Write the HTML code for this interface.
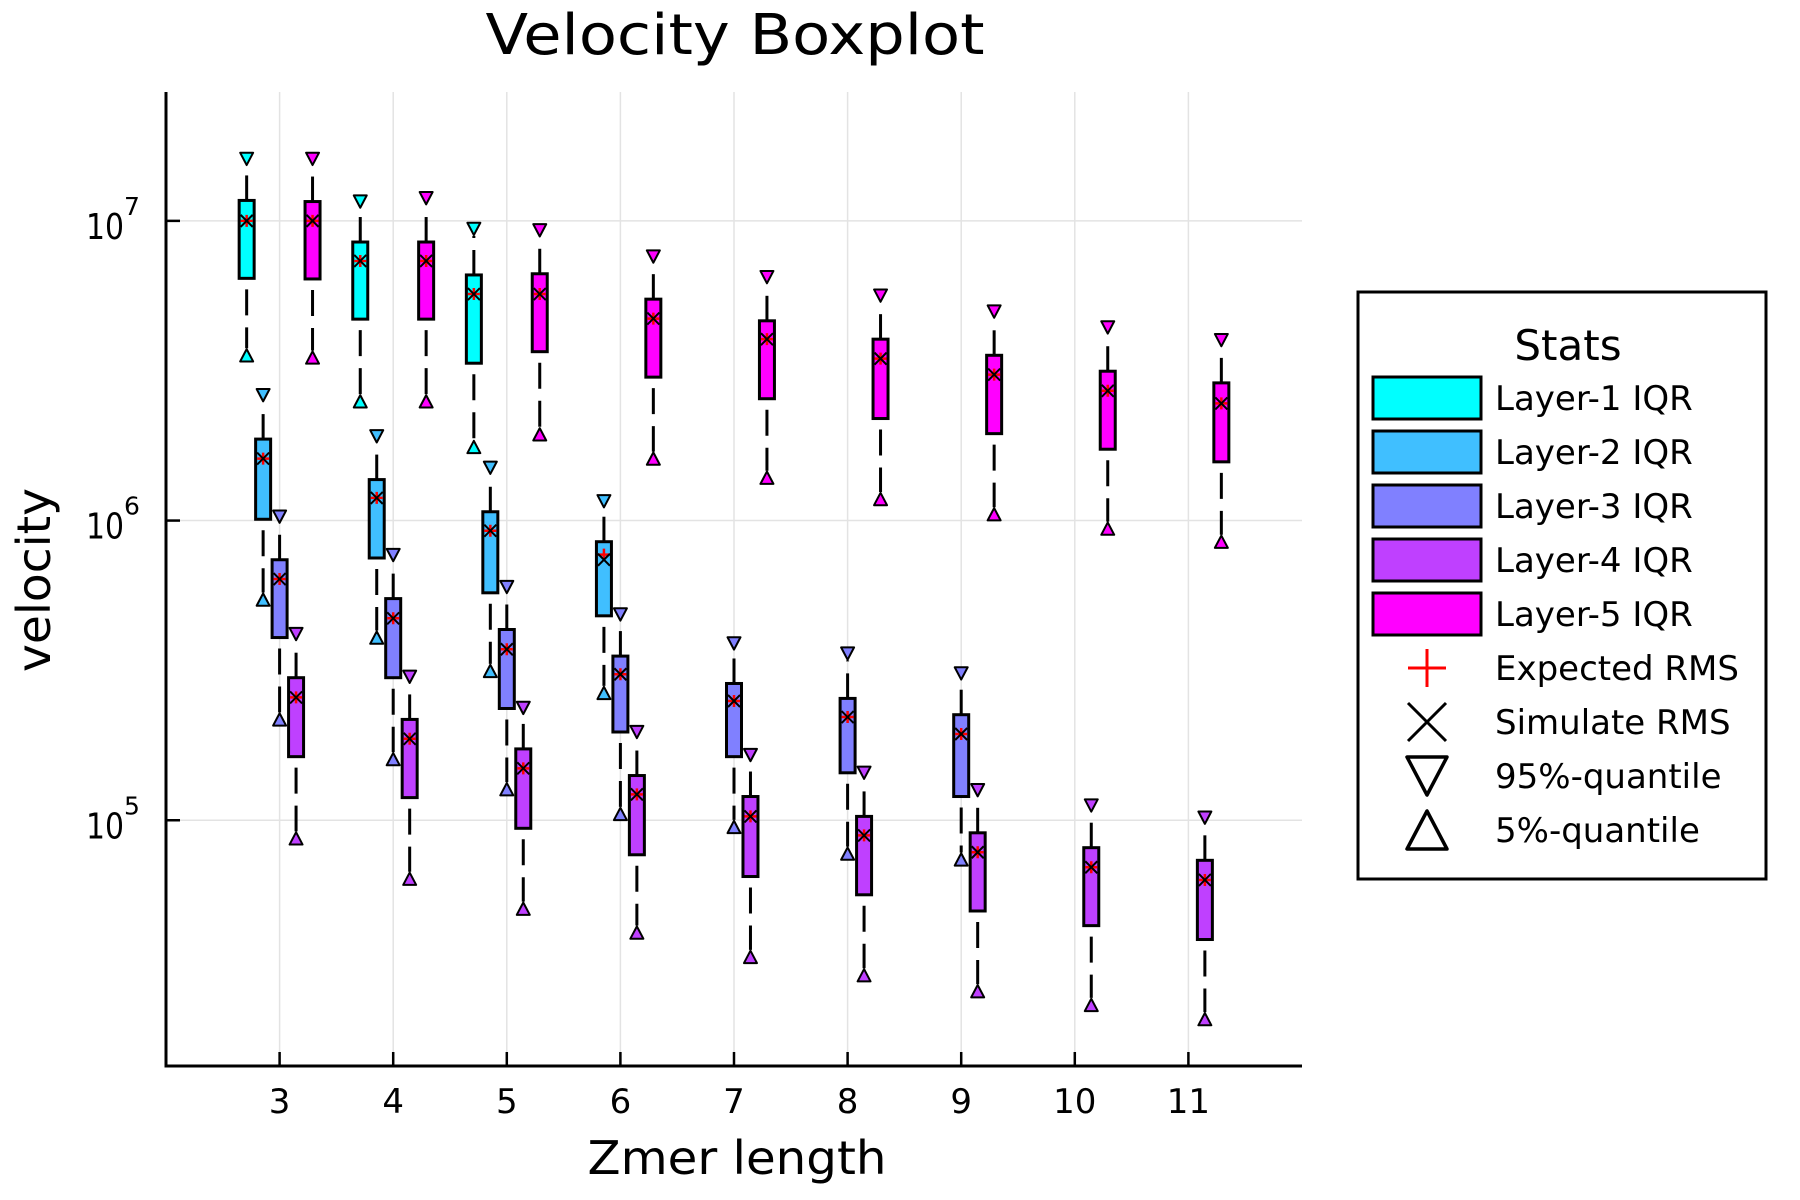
<!DOCTYPE html>
<html><head><meta charset="utf-8">
<style>
html,body{margin:0;padding:0;background:#fff;}
svg{display:block;font-family:"DejaVu Sans","Liberation Sans",sans-serif;}
</style></head>
<body>
<svg id="chart" width="1800" height="1200" viewBox="0 0 1800 1200" xmlns="http://www.w3.org/2000/svg">
<rect x="0" y="0" width="1800" height="1200" fill="#fff"/>
<text x="735" y="54" font-size="56" text-anchor="middle" textLength="499" lengthAdjust="spacingAndGlyphs">Velocity Boxplot</text>
<g id="grid"></g>
<g id="axes"></g>
<g id="marks"></g>
<text x="737" y="1174" font-size="46" text-anchor="middle" textLength="299" lengthAdjust="spacingAndGlyphs">Zmer length</text>
<text transform="translate(50,580) rotate(-90)" font-size="46" text-anchor="middle" textLength="184" lengthAdjust="spacingAndGlyphs">velocity</text>
<g id="legend"></g>
</svg>
<script>
// ---- data ----
const xTicks = [3,4,5,6,7,8,9,10,11];
const yTicks = [5,6,7];
const layerNames = ["Layer-1 IQR","Layer-2 IQR","Layer-3 IQR","Layer-4 IQR","Layer-5 IQR"];
const layerColors = ["#00ffff","#40bfff","#8080ff","#bf40ff","#ff00ff"];
const layerOffsets = [-0.29,-0.145,0,0.145,0.29];

const l1X = [3,4,5];
const l1Q05 = [3.56e6,2.5e6,1.76e6];
const l1Q25 = [6.43e6,4.7e6,3.35e6];
const l1Q75 = [1.17e7,8.5e6,6.6e6];
const l1Q95 = [1.61e7,1.16e7,9.4e6];
const l1Sim = [1.0e7,7.35e6,5.7e6];
const l1Exp = [1.0e7,7.35e6,5.7e6];

const l2X = [3,4,5,6];
const l2Q05 = [5.45e5,4.07e5,3.15e5,2.66e5];
const l2Q25 = [1.01e6,7.5e5,5.74e5,4.81e5];
const l2Q75 = [1.87e6,1.37e6,1.07e6,8.5e5];
const l2Q95 = [2.62e6,1.91e6,1.5e6,1.16e6];
const l2Sim = [1.61e6,1.19e6,9.25e5,7.4e5];
const l2Exp = [1.61e6,1.19e6,9.25e5,7.7e5];

const l3X = [3,4,5,6,7,8,9];
const l3Q05 = [2.17e5,1.6e5,1.27e5,1.05e5,9.5e4,7.74e4,7.4e4];
const l3Q25 = [4.07e5,2.99e5,2.36e5,1.97e5,1.63e5,1.44e5,1.2e5];
const l3Q75 = [7.4e5,5.49e5,4.33e5,3.53e5,2.86e5,2.55e5,2.25e5];
const l3Q95 = [1.03e6,7.67e5,6.0e5,4.86e5,3.89e5,3.6e5,3.09e5];
const l3Sim = [6.38e5,4.72e5,3.72e5,3.07e5,2.5e5,2.21e5,1.94e5];
const l3Exp = [6.38e5,4.72e5,3.72e5,3.07e5,2.5e5,2.21e5,1.94e5];

const l4X = [3,4,5,6,7,8,9,10,11];
const l4Q05 = [8.7e4,6.38e4,5.07e4,4.22e4,3.5e4,3.04e4,2.69e4,2.42e4,2.17e4];
const l4Q25 = [1.63e5,1.19e5,9.4e4,7.67e4,6.49e4,5.64e4,4.98e4,4.45e4,4.0e4];
const l4Q75 = [2.99e5,2.17e5,1.73e5,1.41e5,1.2e5,1.03e5,9.08e4,8.1e4,7.35e4];
const l4Q95 = [4.18e5,3.01e5,2.37e5,1.97e5,1.65e5,1.44e5,1.26e5,1.12e5,1.02e5];
const l4Sim = [2.57e5,1.87e5,1.49e5,1.22e5,1.03e5,8.9e4,7.82e4,6.97e4,6.32e4];
const l4Exp = [2.57e5,1.87e5,1.49e5,1.22e5,1.03e5,8.9e4,7.82e4,6.97e4,6.32e4];

const l5X = [3,4,5,6,7,8,9,10,11];
const l5Q05 = [3.5e6,2.5e6,1.94e6,1.61e6,1.39e6,1.18e6,1.05e6,9.4e5,8.5e5];
const l5Q25 = [6.4e6,4.7e6,3.66e6,3.01e6,2.55e6,2.19e6,1.95e6,1.73e6,1.57e6];
const l5Q75 = [1.16e7,8.5e6,6.66e6,5.48e6,4.64e6,4.03e6,3.56e6,3.15e6,2.88e6];
const l5Q95 = [1.61e7,1.19e7,9.3e6,7.6e6,6.49e6,5.63e6,4.98e6,4.41e6,4.0e6];
const l5Sim = [1.0e7,7.35e6,5.7e6,4.72e6,4.03e6,3.47e6,3.07e6,2.71e6,2.46e6];
const l5Exp = [1.0e7,7.35e6,5.7e6,4.72e6,4.03e6,3.47e6,3.07e6,2.71e6,2.46e6];

// ---- layout ----
const NS = "http://www.w3.org/2000/svg";
const PL = 166, PR = 1302, PT = 92, PB = 1066;
const XMIN = 2.0, XMAX = 12.0;
const LMIN = 4.18, LMAX = 7.43;
function xs(v){ return PL + (v - XMIN) / (XMAX - XMIN) * (PR - PL); }
function ys(v){ return PB - (Math.log10(v) - LMIN) / (LMAX - LMIN) * (PB - PT); }
function yl(l){ return PB - (l - LMIN) / (LMAX - LMIN) * (PB - PT); }
function mk(tag, attrs, parent){
  const e = document.createElementNS(NS, tag);
  for (const k in attrs) e.setAttribute(k, attrs[k]);
  parent.appendChild(e);
  return e;
}
const grid = document.getElementById('grid');
const axes = document.getElementById('axes');
const marks = document.getElementById('marks');
const legend = document.getElementById('legend');

// grid + ticks
xTicks.forEach(t => {
  const g = mk('line', {x1:xs(t), x2:xs(t), y1:PT, y2:PB, stroke:'#e3e3e3', 'stroke-width':1.5}, grid);
  
  
  const tk = mk('line', {x1:xs(t), x2:xs(t), y1:PB, y2:PB-14, stroke:'#000', 'stroke-width':2.5}, axes);
  
  
  const lb = mk('text', {x:xs(t), y:1113, 'font-size':34, 'text-anchor':'middle'}, axes);
  lb.textContent = String(t);
  
  
});
yTicks.forEach(t => {
  const y = yl(t);
  const g = mk('line', {x1:PL, x2:PR, y1:y, y2:y, stroke:'#e3e3e3', 'stroke-width':1.5}, grid);
  
  
  const tk = mk('line', {x1:PL, x2:PL+14, y1:y, y2:y, stroke:'#000', 'stroke-width':2.5}, axes);
  
  
  const lb = mk('text', {x:105, y:y+18, 'font-size':36, 'text-anchor':'middle', textLength:38, lengthAdjust:'spacingAndGlyphs'}, axes);
  lb.textContent = '10';
  
  
  const sp = mk('text', {x:124, y:y-6, 'font-size':25}, axes);
  sp.textContent = String(t);
  
  
});
const ax1 = mk('line', {x1:PL, x2:PL, y1:PT, y2:PB+1.5, stroke:'#000', 'stroke-width':3}, axes);


const ax2 = mk('line', {x1:PL-1.5, x2:PR, y1:PB, y2:PB, stroke:'#000', 'stroke-width':3}, axes);



function tri(cx, cy, s, down, fill, parent, sw){
  const h = s * 0.95;
  const pts = down
    ? `${cx-s/2},${cy-h/2} ${cx+s/2},${cy-h/2} ${cx},${cy+h/2}`
    : `${cx-s/2},${cy+h/2} ${cx+s/2},${cy+h/2} ${cx},${cy-h/2}`;
  return mk('polygon', {points:pts, fill:fill, stroke:'#000', 'stroke-width':sw, 'stroke-linejoin':'round'}, parent);
}

const layers = [
  [l1X,l1Q05,l1Q25,l1Q75,l1Q95,l1Sim,l1Exp],
  [l2X,l2Q05,l2Q25,l2Q75,l2Q95,l2Sim,l2Exp],
  [l3X,l3Q05,l3Q25,l3Q75,l3Q95,l3Sim,l3Exp],
  [l4X,l4Q05,l4Q25,l4Q75,l4Q95,l4Sim,l4Exp],
  [l5X,l5Q05,l5Q25,l5Q75,l5Q95,l5Sim,l5Exp]
];
const BW = 15;
layers.forEach((L, li) => {
  const [X,Q05,Q25,Q75,Q95,SIM,EXP] = L;
  const col = layerColors[li];
  const g = mk('g', {}, marks);
  
  
  X.forEach((xv, i) => {
    const cx = xs(xv + layerOffsets[li]);
    const y05 = ys(Q05[i]), y25 = ys(Q25[i]), y75 = ys(Q75[i]), y95 = ys(Q95[i]);
    const wl = mk('line', {x1:cx, x2:cx, y1:y25, y2:y05-7, stroke:'#000', 'stroke-width':3, 'stroke-dasharray':'0 11 26 12 26 12 26 12 26 12 26 12'}, g);
    
    
    const wh = mk('line', {x1:cx, x2:cx, y1:y75, y2:y95+7, stroke:'#000', 'stroke-width':3, 'stroke-dasharray':'25 12'}, g);
    
    
    const box = mk('rect', {x:cx-BW/2, y:y75, width:BW, height:y25-y75, fill:col, stroke:'#000', 'stroke-width':3}, g);
    
    
    const t95 = tri(cx, y95, 13, true, col, g, 2);
    
    
    const t05 = tri(cx, y05, 13, false, col, g, 2);
    
    
    const ye = ys(EXP[i]);
    const pe = mk('path', {d:`M${cx-6},${ye}H${cx+6}M${cx},${ye-6}V${ye+6}`, stroke:'#ff0000', 'stroke-width':2.5}, g);
    
    
    const ysim = ys(SIM[i]);
    const px = mk('path', {d:`M${cx-6},${ysim-6}L${cx+6},${ysim+6}M${cx-6},${ysim+6}L${cx+6},${ysim-6}`, stroke:'#000', 'stroke-width':2}, g);
    
    
  });
});

// legend
const lbox = mk('rect', {x:1358, y:292, width:408, height:587, fill:'#fff', stroke:'#000', 'stroke-width':3}, legend);


const lt = mk('text', {x:1568, y:360, 'font-size':42, 'text-anchor':'middle'}, legend);
lt.textContent = 'Stats';


const extraNames = ['Expected RMS','Simulate RMS','95%-quantile','5%-quantile'];
const allNames = layerNames.concat(extraNames);
allNames.forEach((nm, i) => {
  const cy = 398 + 54 * i;
  const eg = mk('g', {}, legend);
  
  
  if (i < 5) {
    const r = mk('rect', {x:1373, y:cy-21, width:108, height:42, fill:layerColors[i], stroke:'#000', 'stroke-width':3}, eg);
    
    
  } else if (i === 5) {
    const p = mk('path', {d:`M1408,${cy}H1446M1427,${cy-19}V${cy+19}`, stroke:'#ff0000', 'stroke-width':3}, eg);
    
    
  } else if (i === 6) {
    const p = mk('path', {d:`M1408,${cy-19}L1446,${cy+19}M1408,${cy+19}L1446,${cy-19}`, stroke:'#000', 'stroke-width':3}, eg);
    
    
  } else {
    const t = tri(1427, cy, 40, i === 7, '#fff', eg, 3.5);
    
    
  }
  const tx = mk('text', {x:1495, y:cy+12, 'font-size':34}, eg);
  tx.textContent = nm;
  
  
});
</script>
</body></html>
